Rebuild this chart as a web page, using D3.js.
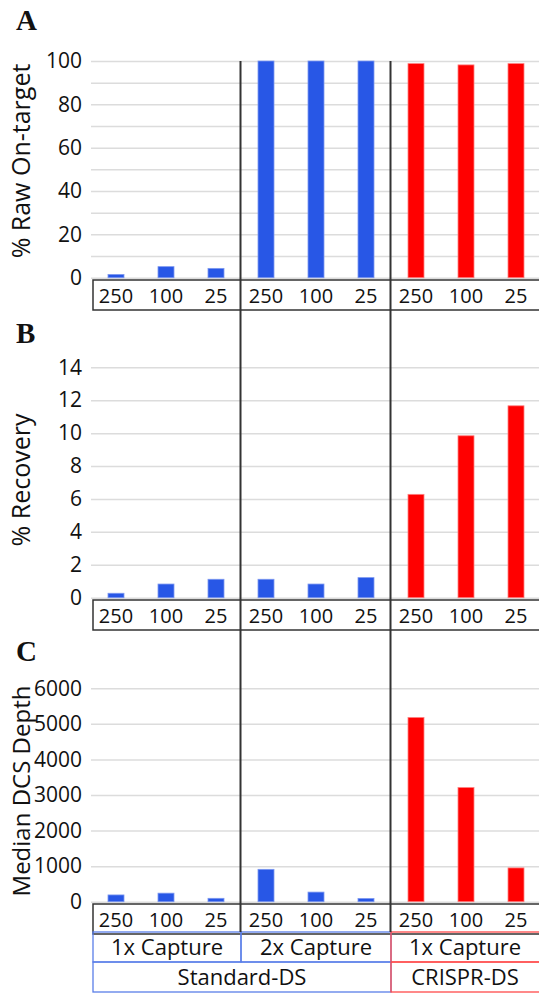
<!DOCTYPE html>
<html>
<head>
<meta charset="utf-8">
<script src="https://cdn.jsdelivr.net/npm/d3@7"></script>
<style>
  html, body { margin: 0; padding: 0; background: #fff; }
  svg { display: block; font-family: "Open Sans", sans-serif; }
</style>
</head>
<body>
<div id="chart"></div>
<script>
// data
const dilutions = ["250", "100", "25", "250", "100", "25", "250", "100", "25"];
const captureGroups = ["1x Capture", "2x Capture", "1x Capture"];
const protocols = ["Standard-DS", "CRISPR-DS"];
const onTarget = [1.5, 5.1, 4.3, 100, 100, 100, 98.8, 98.2, 98.8];
const recovery = [0.27, 0.83, 1.12, 1.12, 0.83, 1.22, 6.28, 9.84, 11.66];
const dcsDepth = [190, 240, 95, 910, 270, 90, 5180, 3210, 950];
const onTargetTicks = [0, 20, 40, 60, 80, 100];
const recoveryTicks = [0, 2, 4, 6, 8, 10, 12, 14];
const depthTicks = [0, 1000, 2000, 3000, 4000, 5000, 6000];

const width = 539, height = 994;
const blue = "#2857e6", red = "#ff0000";
const blueLine = "#5a7ee8", redLine = "#ff4a4a";
const darkLine = "#333";

const svg = d3.select("#chart").append("svg")
  .attr("width", width)
  .attr("height", height);

const x = d3.scaleBand()
  .domain(d3.range(dilutions.length))
  .range([91, 541])
  .paddingInner(0.68)
  .paddingOuter(0.34);
const step = x.step();
const bandLeft = i => x(i) - (step - x.bandwidth()) / 2;
const barColor = i => (i < 6 ? blue : red);

const panels = [
  { letter: "A", title: "% Raw On-target", values: onTarget, ticks: onTargetTicks,
    grid: d3.range(0, 101, 10), y0: 277.7, y1: 61, letterY: 30, titleY: 161, titleSize: 25 },
  { letter: "B", title: "% Recovery", values: recovery, ticks: recoveryTicks,
    grid: recoveryTicks, y0: 597.7, y1: 367.3, letterY: 343, titleY: 480, titleSize: 25 },
  { letter: "C", title: "Median DCS Depth", values: dcsDepth, ticks: depthTicks,
    grid: depthTicks, y0: 901.7, y1: 688.3, letterY: 661, titleY: 791, titleSize: 24 }
];

panels.forEach(p => {
  const y = d3.scaleLinear()
    .domain([0, d3.max(p.ticks)])
    .range([p.y0, p.y1]);

  svg.append("g")
    .attr("class", "grid")
    .attr("transform", "translate(91,0)")
    .call(d3.axisLeft(y).tickValues(p.grid).tickSize(-(width - 91)).tickFormat(""))
    .call(g => g.select(".domain").remove())
    .selectAll("line")
    .attr("stroke", "#dcdcdc")
    .attr("stroke-width", 1.5);

  svg.append("g")
    .attr("class", "y axis")
    .attr("transform", "translate(91,0)")
    .call(d3.axisLeft(y).tickValues(p.ticks).tickFormat(d3.format("d")).tickSize(0).tickPadding(9))
    .call(g => g.select(".domain").remove())
    .selectAll("text")
    .attr("fill", "#111")
    .style("font-size", "21px")
    .style("font-family", "'Open Sans', sans-serif");

  svg.append("g")
    .selectAll("rect")
    .data(p.values)
    .enter().append("rect")
    .attr("x", (d, i) => x(i))
    .attr("y", d => y(d))
    .attr("width", x.bandwidth())
    .attr("height", d => y(0) - y(d))
    .attr("fill", (d, i) => barColor(i))
    .attr("stroke", (d, i) => (i < 6 ? "#7d98f0" : "#ff8080"))
    .attr("stroke-width", 0.8);

  // dilution label box
  const boxTop = p.y0 + 2.3;
  svg.append("rect")
    .attr("x", 93)
    .attr("y", boxTop)
    .attr("width", width)
    .attr("height", 30)
    .attr("fill", "none")
    .attr("stroke", darkLine)
    .attr("stroke-width", 1.5);

  svg.append("g")
    .selectAll("text")
    .data(dilutions)
    .enter().append("text")
    .attr("x", (d, i) => x(i) + x.bandwidth() / 2)
    .attr("y", boxTop + 23)
    .attr("text-anchor", "middle")
    .style("font-size", "20px")
    .attr("fill", "#111")
    .text(d => d);

  svg.append("text")
    .attr("x", 16)
    .attr("y", p.letterY)
    .style("font-family", "'Liberation Serif', serif")
    .style("font-weight", "bold")
    .style("font-size", "29px")
    .attr("fill", "#111")
    .text(p.letter);

  svg.append("text")
    .attr("transform", "rotate(-90)")
    .attr("x", -p.titleY)
    .attr("y", 30)
    .attr("text-anchor", "middle")
    .style("font-size", p.titleSize + "px")
    .attr("fill", "#111")
    .text(p.title);
});

// capture / protocol rows under panel C
const rowTop = 932;
const rowH = 30;
captureGroups.forEach((label, g) => {
  const x0 = g === 0 ? 93 : bandLeft(g * 3);
  const x1 = g === 2 ? width + 2 : bandLeft(g * 3 + 3);
  svg.append("rect")
    .attr("x", x0)
    .attr("y", rowTop)
    .attr("width", x1 - x0)
    .attr("height", rowH)
    .attr("fill", "none")
    .attr("stroke", g < 2 ? blueLine : redLine)
    .attr("stroke-width", 1.3);
  svg.append("text")
    .attr("x", (x0 + Math.min(x1, width)) / 2)
    .attr("y", rowTop + 23)
    .attr("text-anchor", "middle")
    .style("font-size", "22px")
    .attr("fill", "#111")
    .text(label);
});

protocols.forEach((label, g) => {
  const x0 = g === 0 ? 93 : bandLeft(6);
  const x1 = g === 0 ? bandLeft(6) : width + 2;
  svg.append("rect")
    .attr("x", x0)
    .attr("y", rowTop + rowH)
    .attr("width", x1 - x0)
    .attr("height", rowH)
    .attr("fill", "none")
    .attr("stroke", g === 0 ? blueLine : redLine)
    .attr("stroke-width", 1.3);
  svg.append("text")
    .attr("x", (x0 + Math.min(x1, width)) / 2)
    .attr("y", rowTop + rowH + 23)
    .attr("text-anchor", "middle")
    .style("font-size", "22px")
    .attr("fill", "#111")
    .text(label);
});

// group dividers
[3, 6].forEach(i => {
  svg.append("line")
    .attr("x1", bandLeft(i) - 0.5)
    .attr("x2", bandLeft(i) - 0.5)
    .attr("y1", 61)
    .attr("y2", rowTop)
    .attr("stroke", darkLine)
    .attr("stroke-width", 2);
});
</script>
</body>
</html>
